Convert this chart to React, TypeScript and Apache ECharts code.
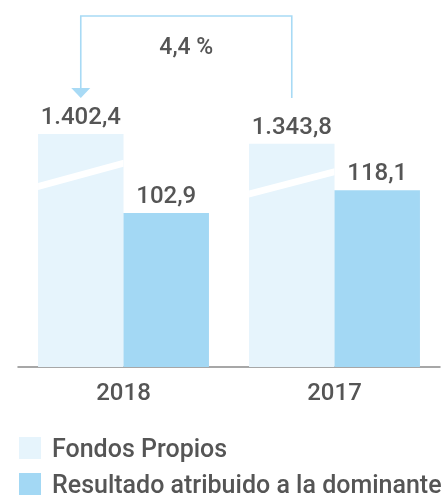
import React, { useEffect, useRef } from "react";
import * as echarts from "echarts";

const categories = ["2018", "2017"];
const fondosPropios = [1402.4, 1343.8];
const resultado = [102.9, 118.1];
const seriesNames = ["Fondos Propios", "Resultado atribuido a la dominante"];

const COLOR_FONDOS = "#e6f4fc";
const COLOR_RESULT = "#a3d8f4";
const COLOR_BRACKET = "#a8daf5";
const TEXT = "#555555";
const FONT = "Roboto";
const WEIGHT = 500;

function fmt(v: number): string {
  const [i, d] = v.toFixed(1).split(".");
  const withDots = i.replace(/\B(?=(\d{3})+(?!\d))/g, ".");
  return withDots + "," + d;
}

const CAT_GAP = 0.19;

function legendFor(name: string, top: number) {
  return {
    data: [name],
    orient: "horizontal",
    left: 19,
    top,
    padding: 0,
    itemWidth: 22,
    itemHeight: 22,
    icon: "rect",
    textStyle: {
      color: TEXT,
      fontSize: 25,
      lineHeight: 26,
      fontFamily: FONT,
      fontWeight: WEIGHT,
      padding: [0, 0, 0, 6],
    },
    selectedMode: false,
  };
}

export default function App() {
  const ref = useRef<HTMLDivElement>(null);
  useEffect(() => {
    if (!ref.current) return;
    const chart = echarts.init(ref.current, null, { renderer: "svg" });
    const labelStyle = {
      show: true,
      position: "top",
      distance: 6,
      color: TEXT,
      fontSize: 24,
      fontFamily: FONT,
      fontWeight: WEIGHT,
      formatter: (p: any) => fmt(p.value),
    };
    const option: any = {
      animation: false,
      textStyle: { fontFamily: FONT },
      grid: { left: 18, right: 3, top: 60, bottom: 130, containLabel: false },
      xAxis: {
        type: "category",
        data: categories,
        axisLine: { lineStyle: { color: "#8a8a8a", width: 1.5 } },
        axisTick: { show: false },
        axisLabel: { color: TEXT, fontSize: 24, fontFamily: FONT, fontWeight: WEIGHT, margin: 13 },
      },
      yAxis: [
        { type: "value", min: 0, max: 1848, show: false },
        { type: "value", min: 0, max: 205, show: false },
      ],
      legend: [legendFor(seriesNames[0], 435), legendFor(seriesNames[1], 471)],
      series: [
        {
          name: seriesNames[0],
          type: "bar",
          yAxisIndex: 0,
          data: fondosPropios,
          barGap: "0%",
          barCategoryGap: CAT_GAP * 100 + "%",
          itemStyle: { color: COLOR_FONDOS },
          label: labelStyle,
        },
        {
          name: seriesNames[1],
          type: "bar",
          yAxisIndex: 1,
          data: resultado,
          barGap: "0%",
          barCategoryGap: CAT_GAP * 100 + "%",
          itemStyle: { color: COLOR_RESULT },
          label: labelStyle,
        },
        {
          name: "break",
          type: "custom",
          yAxisIndex: 0,
          z: 5,
          silent: true,
          data: fondosPropios.map((v, i) => [i, v]),
          renderItem: (params: any, api: any) => {
            const idx = api.value(0);
            const val = api.value(1);
            const top = api.coord([idx, val]);
            const base = api.coord([idx, 0]);
            const band = api.size([1, 0])[0];
            const barW = (band * (1 - CAT_GAP)) / 2;
            const x0 = top[0] - barW;
            const x1 = top[0];
            const h = base[1] - top[1];
            const yl = base[1] - h * 0.775;
            const yr = base[1] - h * 0.875;
            const t = 3.5;
            return {
              type: "polygon",
              shape: {
                points: [
                  [x0, yl - t],
                  [x1, yr - t],
                  [x1, yr + t],
                  [x0, yl + t],
                ],
              },
              style: { fill: "#ffffff" },
            };
          },
        },
      ],
    };
    chart.setOption(option);

    const band = (443 - 18 - 3) / categories.length;
    const barW = (band * (1 - CAT_GAP)) / 2;
    const c0 = chart.convertToPixel({ xAxisIndex: 0 }, categories[0]) as number;
    const c1 = chart.convertToPixel({ xAxisIndex: 0 }, categories[1]) as number;
    const xl = c0 - barW / 2;
    const xr = c1 - barW / 2;
    const pct = ((fondosPropios[0] - fondosPropios[1]) / fondosPropios[1]) * 100;
    const pctText = pct.toFixed(1).replace(".", ",") + " %";
    chart.setOption({
      graphic: [
        {
          type: "polyline",
          shape: { points: [[xl, 88], [xl, 16], [xr, 16], [xr, 98]] },
          style: { stroke: COLOR_BRACKET, lineWidth: 1.6, fill: null },
          silent: true,
        },
        {
          type: "polygon",
          shape: { points: [[xl - 9.5, 88], [xl + 9.5, 88], [xl, 98]] },
          style: { fill: COLOR_BRACKET },
          silent: true,
        },
        {
          type: "text",
          x: (xl + xr) / 2,
          y: 46,
          style: {
            text: pctText,
            fill: TEXT,
            fontSize: 23,
            fontFamily: FONT,
            fontWeight: WEIGHT,
            align: "center",
            verticalAlign: "middle",
          },
          silent: true,
        },
      ],
    });
    return () => chart.dispose();
  }, []);
  return (
    <div
      ref={ref}
      style={{ position: "fixed", left: 0, top: 0, width: 443, height: 497 }}
    />
  );
}
